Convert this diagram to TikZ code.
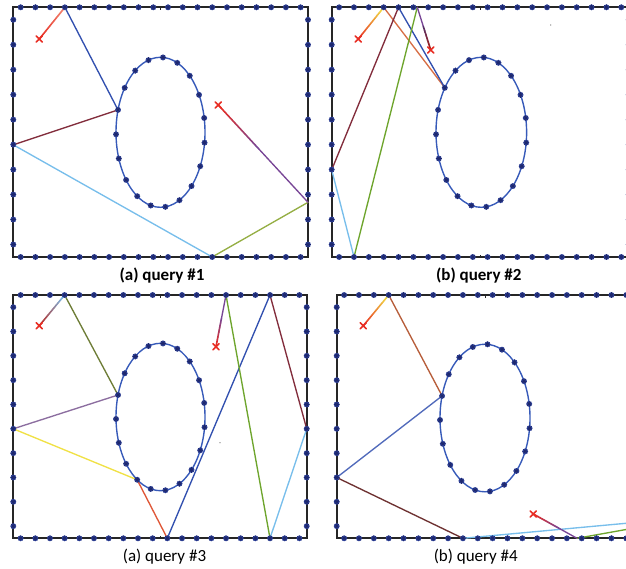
\documentclass[tikz,border=0pt]{standalone}
\usepackage{fontspec}
\setmainfont{Carlito}
\usetikzlibrary{calc}
\definecolor{mkc}{RGB}{50,72,165}
\definecolor{mkd}{RGB}{30,40,110}
\definecolor{ellc}{RGB}{55,90,185}
\definecolor{xred}{RGB}{232,45,35}
\definecolor{cblue}{RGB}{50,80,175}
\definecolor{cmaroon}{RGB}{130,45,60}
\definecolor{clblue}{RGB}{120,190,235}
\definecolor{colive}{RGB}{150,175,70}
\definecolor{cpurple}{RGB}{120,70,150}
\definecolor{corange}{RGB}{215,110,70}
\definecolor{cyellow}{RGB}{240,225,70}
\definecolor{cgreen}{RGB}{110,165,45}
\definecolor{cmauve}{RGB}{140,110,160}
\definecolor{cbrown}{RGB}{110,50,50}
\definecolor{csalmon}{RGB}{240,130,110}
\definecolor{cdkolive}{RGB}{110,125,55}
\newcommand\mypanel[8]{%
  \draw[frm] (#1,#2) rectangle ++(#3,#4);
  \draw[frm, line width=0.7] ({#1+#3/2},#2) -- ++(0,2.5) ({#1+#3/2},{#2+#4}) -- ++(0,-2.5);
  \draw[ellc, line width=1.4] (#5,#6) ellipse [x radius=#7, y radius=#8];
}
\newcommand\mymarks[8]{%
  \foreach \k in {1,...,20}{
    \pic at ({#1+#3*(\k-0.5)/20},#2) {mk};
    \pic at ({#1+#3*(\k-0.5)/20},{#2+#4}) {mk};
  }
  \foreach \k in {1,...,10}{
    \pic at (#1,{#2+#4*(\k-0.5)/10}) {mk};
    \pic at ({#1+#3},{#2+#4*(\k-0.5)/10}) {mk};
  }
  \foreach \k in {0,...,18}{
    \pic at ({#5+#7*cos(86.8-\k*18.947)},{#6-#8*sin(86.8-\k*18.947)}) {mk};
  }
}
\newcommand\gseg[4]{%
  \foreach \i in {0,...,11}{
    \pgfmathtruncatemacro\pp{100-\i*100/11}
    \draw[pth, line width=1.6, color=#3!\pp!#4] ($(#1)!{\i/12}!(#2)$) -- ($(#1)!{(\i+1)/12}!(#2)$);
  }
}
\newcommand\crossat[1]{%
  \draw[xred, line width=1.6, line cap=round] ($(#1)+(-3,-3)$) -- ($(#1)+(3,3)$) ($(#1)+(-3,3)$) -- ($(#1)+(3,-3)$);
}
\begin{document}
\begin{tikzpicture}[x=1pt,y=-1pt,
  frm/.style={line width=1.7, black!85},
  pth/.style={line width=1.35, line cap=round},
  captxt/.style={anchor=base, font=\fontsize{17}{20}\selectfont, inner sep=0},
  captbf/.style={anchor=base, font=\fontsize{17}{20}\selectfont\bfseries, inner sep=0},
  mk/.pic={\fill[mkc] (0,0) circle (2.9);
    \draw[mkd, line width=0.7] (-2.9,0) -- (2.9,0) (0,-2.9) -- (0,2.9) (-2,-2) -- (2,2) (-2,2) -- (2,-2);}]
\useasboundingbox (0,0) rectangle (626,568);
\clip (0,0) rectangle (626,568);

% ---------- panel 1
\mypanel{13.3}{7.3}{294.7}{249.7}{160.5}{132.3}{44.5}{75}
\coordinate (s1) at (39.3,39);
\coordinate (t1) at (64.9,7.3);
\coordinate (e1) at (118,109.9);
\coordinate (l1) at (13.3,144.8);
\coordinate (b1) at (212.2,257);
\coordinate (r1) at (308,202.3);
\coordinate (c1) at (218.3,105);
\coordinate (m1) at ($(r1)!0.55!(c1)$);
\gseg{s1}{t1}{xred}{csalmon}
\draw[pth, cblue] (t1) -- (e1);
\draw[pth, cmaroon] (e1) -- (l1);
\draw[pth, clblue] (l1) -- (b1);
\draw[pth, colive] (b1) -- (r1);
\draw[pth, cpurple] (r1) -- (m1);
\gseg{m1}{c1}{cpurple}{xred}
\mymarks{13.3}{7.3}{294.7}{249.7}{160.5}{132.3}{44.5}{75}
\crossat{s1}
\crossat{c1}
\node[captbf] (cap1) at (162,280) {(a) query \#1};

% ---------- panel 2
\mypanel{331.7}{7.3}{297}{249.7}{481.3}{132.3}{45.3}{75}
\coordinate (s2) at (358.3,39);
\coordinate (t2a) at (383.7,7.3);
\coordinate (e2) at (444.8,87.8);
\coordinate (t2b) at (398.5,7.3);
\coordinate (l2) at (331.7,169.8);
\coordinate (b2) at (354,257);
\coordinate (t2c) at (417.3,7.3);
\coordinate (c2) at (430.7,50);
\coordinate (m2) at ($(t2c)!0.45!(c2)$);
\gseg{s2}{t2a}{xred}{cyellow}
\draw[pth, corange] (t2a) -- (e2);
\draw[pth, cblue] (e2) -- (t2b);
\draw[pth, cmaroon] (t2b) -- (l2);
\draw[pth, clblue] (l2) -- (b2);
\draw[pth, cgreen] (b2) -- (t2c);
\draw[pth, cpurple] (t2c) -- (m2);
\gseg{m2}{c2}{cpurple}{xred!70!black}
\fill[black!60] (550.7,25) circle (0.7);
\mymarks{331.7}{7.3}{297}{249.7}{481.3}{132.3}{45.3}{75}
\crossat{s2}
\crossat{c2}
\node[captbf] (cap2) at (478.8,280) {(b) query \#2};

% ---------- panel 3
\mypanel{13.3}{295}{293.4}{243.3}{160.5}{417}{44.5}{73.7}
\coordinate (s3) at (39.3,325.7);
\coordinate (t3a) at (64.6,295);
\coordinate (e3a) at (118,395);
\coordinate (l3) at (13.3,428.8);
\coordinate (e3b) at (137.2,479.8);
\coordinate (b3a) at (167.3,538.3);
\coordinate (t3b) at (270,295);
\coordinate (r3) at (306.7,428.8);
\coordinate (b3b) at (270,538.3);
\coordinate (t3c) at (226,295);
\coordinate (c3) at (216,346.7);
\coordinate (m3) at ($(t3c)!0.45!(c3)$);
\gseg{s3}{t3a}{xred!80!black}{clblue}
\draw[pth, cdkolive] (t3a) -- (e3a);
\draw[pth, cmauve] (e3a) -- (l3);
\draw[pth, cyellow] (l3) -- (e3b);
\draw[pth, corange!80!red] (e3b) -- (b3a);
\draw[pth, cblue] (b3a) -- (t3b);
\draw[pth, cmaroon] (t3b) -- (r3);
\draw[pth, clblue] (r3) -- (b3b);
\draw[pth, cgreen] (b3b) -- (t3c);
\draw[pth, cpurple] (t3c) -- (m3);
\gseg{m3}{c3}{cpurple}{xred}
\fill[black!60] (220,442.7) circle (0.7);
\mymarks{13.3}{295}{293.4}{243.3}{160.5}{417}{44.5}{73.7}
\crossat{s3}
\crossat{c3}
\node[captxt] (cap3) at (164.5,561.5) {(a) query \#3};

% ---------- panel 4
\mypanel{336.7}{295}{297}{243.3}{485}{418}{45}{73.8}
\coordinate (s4) at (363.3,325.7);
\coordinate (t4) at (388.7,295);
\coordinate (e4) at (442.1,395.9);
\coordinate (l4) at (336.7,477.5);
\coordinate (b4a) at (462.9,538.3);
\coordinate (r4a) at (640,522);
\coordinate (r4b) at (640,527);
\coordinate (b4b) at (577,538.3);
\coordinate (c4) at (533.3,514);
\coordinate (m4) at ($(b4b)!0.4!(c4)$);
\gseg{s4}{t4}{xred}{cyellow}
\draw[pth, corange!85!black] (t4) -- (e4);
\draw[pth, cblue!85!white] (e4) -- (l4);
\draw[pth, cbrown] (l4) -- (b4a);
\draw[pth, clblue] (b4a) -- (r4a);
\draw[pth, cgreen] (r4b) -- (b4b);
\draw[pth, cpurple] (b4b) -- (m4);
\gseg{m4}{c4}{cpurple}{xred}
\mymarks{336.7}{295}{297}{243.3}{485}{418}{45}{73.8}
\crossat{s4}
\crossat{c4}
\node[captxt] (cap4) at (475.8,561.5) {(b) query \#4};
\end{tikzpicture}
\end{document}
